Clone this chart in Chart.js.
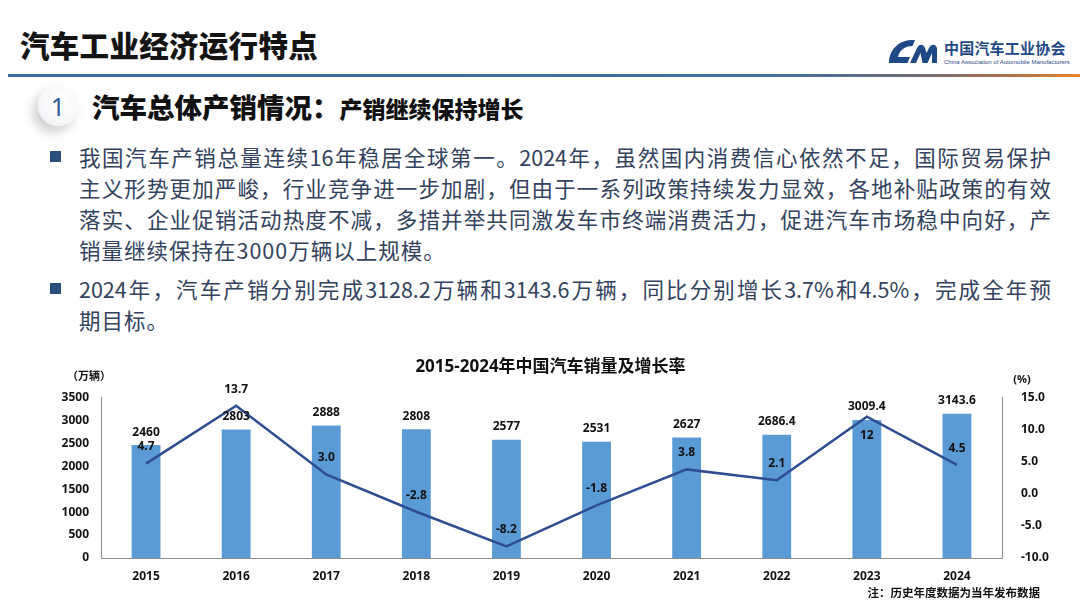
<!DOCTYPE html>
<html lang="zh-CN">
<head>
<meta charset="utf-8">
<title>汽车工业经济运行特点</title>
<script src="https://cdn.jsdelivr.net/npm/chart.js@4.4.1/dist/chart.umd.min.js"></script>
<style>
  html, body { margin: 0; padding: 0; background: #ffffff; }
  body { width: 1080px; height: 611px; position: relative; overflow: hidden;
         font-family: "Noto Sans CJK SC", "Noto Sans", sans-serif; }
  .abs { position: absolute; white-space: nowrap; }
  #pageTitle { left: 20px; top: 24px; font-size: 29.5px; font-weight: 900; color: #141414; line-height: 40px; letter-spacing: 0.3px; }
  #rule { left: 8px; top: 74px; width: 1072px; height: 3px;
          background: linear-gradient(to right, #3a6ea8 0%, #3f6fa3 70%, #6b6c78 84%, #a8704a 93%, #e8822c 100%); }
  #circle { left: 38px; top: 86px; width: 40px; height: 40px; border-radius: 50%;
            background: radial-gradient(circle at 60% 35%, #ffffff 0%, #f6f7f9 60%, #e6e9ee 100%);
            box-shadow: -5px 6px 12px rgba(0,0,0,0.20); text-align: center; line-height: 40px;
            font-family: "Noto Sans", sans-serif; font-size: 25px; color: #2d5b8f; }
  #sub { left: 92px; top: 88px; line-height: 36px; color: #111; font-weight: 900; }
  #sub .a { font-size: 27.5px; }
  #sub .b { font-size: 23px; }
  .line { position: absolute; left: 79px; width: 972px; font-size: 21.5px; line-height: 30px; color: #33425e;
          white-space: nowrap; }
  .just { text-align: justify; text-align-last: justify; }
  .sp { letter-spacing: 1.0px; }
  .bullet { position: absolute; left: 50px; width: 11px; height: 11px; background: #2b4f7d; }
  #logoMark { left: 888px; top: 39px; }
  #logoCn { left: 944px; top: 38px; font-size: 15px; font-weight: 700; color: #1f4a86; line-height: 20px; letter-spacing: 0.2px; }
  #logoEn { left: 944px; top: 58px; font-size: 6px; color: #1f4a86; line-height: 8px; font-family: "Liberation Sans", sans-serif; }
  #chartBox { position: absolute; left: 0; top: 340px; width: 1080px; height: 271px; }
  #note { right: 40px; top: 584px; font-size: 11.5px; font-weight: 700; color: #111; line-height: 16px; }
</style>
</head>
<body>
<div id="pageTitle" class="abs">汽车工业经济运行特点</div>
<div id="logoMark" class="abs">
  <svg width="50" height="26" viewBox="0 0 50 26">
    <path fill="#1f4a86" d="M23 1 L27 1 L24.5 7 C17 7 11.5 11 10 18 L22 18 L19.5 24 L1 24 C1 12 9 2 23 1 Z"/>
    <path fill="#1f4a86" d="M22 24 L29 9 C31 4.5 35.5 4.5 37 9 L38.5 14 L41 9 C43 4.5 47.5 4.5 49 9 L49 24 L44 24 L44 14 L39.5 24 L34.5 24 L32.5 14 L28 24 Z"/>
  </svg>
</div>
<div id="logoCn" class="abs">中国汽车工业协会</div>
<div id="logoEn" class="abs">China Association of Automobile Manufacturers</div>
<div id="rule" class="abs"></div>

<div id="circle" class="abs">1</div>
<div id="sub" class="abs"><span class="a">汽车总体产销情况：</span><span class="b">产销继续保持增长</span></div>

<div class="bullet" style="top:151px"></div>
<div class="line just" style="top:142px">我国汽车产销总量连续16年稳居全球第一。2024年，虽然国内消费信心依然不足，国际贸易保护</div>
<div class="line just" style="top:173px">主义形势更加严峻，行业竞争进一步加剧，但由于一系列政策持续发力显效，各地补贴政策的有效</div>
<div class="line just" style="top:204px">落实、企业促销活动热度不减，多措并举共同激发车市终端消费活力，促进汽车市场稳中向好，产</div>
<div class="line sp" style="top:235px">销量继续保持在3000万辆以上规模。</div>
<div class="bullet" style="top:283px"></div>
<div class="line just" style="top:274px">2024年，汽车产销分别完成3128.2万辆和3143.6万辆，同比分别增长3.7%和4.5%，完成全年预</div>
<div class="line sp" style="top:305px">期目标。</div>

<div id="chartBox"><canvas id="c"></canvas></div>
<div id="note" class="abs">注：历史年度数据为当年发布数据</div>

<script>
// ---- data ----
const years = ['2015','2016','2017','2018','2019','2020','2021','2022','2023','2024'];
const salesValues = [2460, 2803, 2888, 2808, 2577, 2531, 2627, 2686.4, 3009.4, 3143.6];
const salesLabels = ['2460','2803','2888','2808','2577','2531','2627','2686.4','3009.4','3143.6'];
const growthValues = [4.7, 13.7, 3.0, -2.8, -8.2, -1.8, 3.8, 2.1, 12, 4.5];
const growthLabels = ['4.7','13.7','3.0','-2.8','-8.2','-1.8','3.8','2.1','12','4.5'];
const growthLabelBelow = ['2023'];
const salesTicks = [0, 500, 1000, 1500, 2000, 2500, 3000, 3500];
const growthTicks = [-10, -5, 0, 5, 10, 15];
const chartTitle = '2015-2024年中国汽车销量及增长率';
const leftUnit = '（万辆）';
const rightUnit = '(%)';

const FONT = '"Noto Sans", "Noto Sans CJK SC", sans-serif';

const labelPlugin = {
  id: 'valueLabels',
  afterDatasetsDraw(chart) {
    const ctx = chart.ctx;
    ctx.save();
    ctx.fillStyle = '#111';
    ctx.textAlign = 'center';
    ctx.textBaseline = 'middle';
    ctx.font = 'bold 12px ' + FONT;
    const barMeta = chart.getDatasetMeta(1);
    barMeta.data.forEach((el, i) => {
      ctx.fillText(salesLabels[i], el.x, el.y - 13);
    });
    const lineMeta = chart.getDatasetMeta(0);
    lineMeta.data.forEach((el, i) => {
      const below = growthLabelBelow.includes(years[i]);
      ctx.fillText(growthLabels[i], el.x, below ? el.y + 19 : el.y - 16.5);
    });
    const ya = chart.scales.y, yb = chart.scales.y1;
    ctx.font = 'bold 11px "Noto Sans CJK SC", sans-serif';
    ctx.fillText(leftUnit, ya.right - 12, ya.top - 22);
    ctx.font = 'bold 11px ' + FONT;
    ctx.fillText(rightUnit, yb.left + 20, yb.top - 18);
    ctx.restore();
  }
};

new Chart(document.getElementById('c'), {
  data: {
    labels: years,
    datasets: [
      {
        type: 'line',
        label: '增长率',
        data: growthValues,
        yAxisID: 'y1',
        borderColor: '#2f4e92',
        borderWidth: 2.6,
        pointRadius: 0,
        pointHoverRadius: 0,
        tension: 0,
        order: 0
      },
      {
        type: 'bar',
        label: '销量',
        data: salesValues,
        yAxisID: 'y',
        backgroundColor: '#5b9bd5',
        barPercentage: 0.32,
        categoryPercentage: 1.0,
        order: 1
      }
    ]
  },
  options: {
    responsive: true,
    maintainAspectRatio: false,
    animation: false,
    layout: { padding: { left: 21, right: 0, top: 0, bottom: 0 } },
    plugins: {
      legend: { display: false },
      tooltip: { enabled: false },
      title: {
        display: true,
        text: chartTitle,
        color: '#111',
        font: { size: 17, weight: 'bold', family: '"Noto Sans", "Noto Sans CJK SC", sans-serif', lineHeight: 1.2 },
        padding: { top: 17, bottom: 20 }
      }
    },
    scales: {
      x: {
        grid: { display: false },
        border: { display: true, color: '#8c8c8c', width: 1 },
        ticks: { color: '#111', font: { size: 12, weight: 'bold', family: FONT }, padding: 3, maxRotation: 0 },
        afterFit: s => { s.height = 53; }
      },
      y: {
        position: 'left',
        min: 0, max: 3500,
        afterBuildTicks: s => { s.ticks = salesTicks.map(v => ({ value: v })); },
        grid: { display: false },
        border: { display: true, color: '#8c8c8c', width: 1 },
        ticks: { color: '#111', font: { size: 12, weight: 'bold', family: FONT }, padding: 4,
                 callback: v => String(v) },
        afterFit: s => { s.width = 80; }
      },
      y1: {
        position: 'right',
        min: -10, max: 15,
        afterBuildTicks: s => { s.ticks = growthTicks.map(v => ({ value: v })); },
        grid: { display: false },
        border: { display: true, color: '#8c8c8c', width: 1 },
        ticks: { color: '#111', font: { size: 12, weight: 'bold', family: FONT }, padding: 11,
                 callback: v => Number(v).toFixed(1) },
        afterFit: s => { s.width = 78; }
      }
    }
  },
  plugins: [labelPlugin]
});
</script>
</body>
</html>
